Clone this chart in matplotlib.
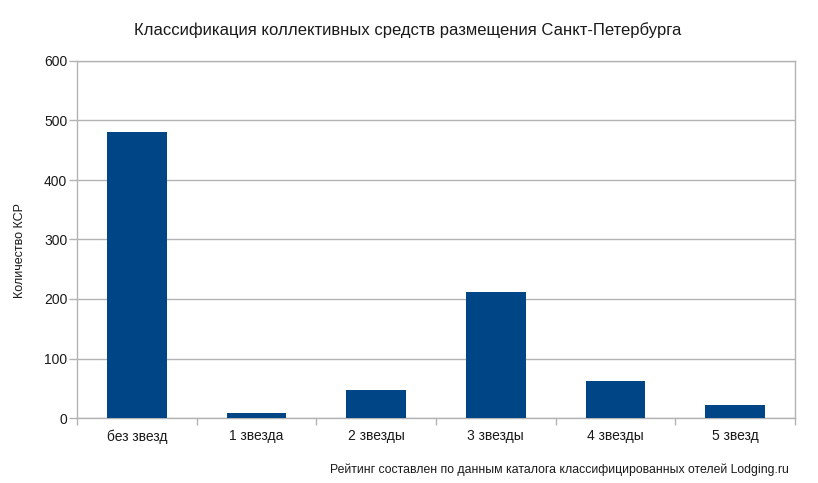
import matplotlib.pyplot as plt
import numpy as np

# данные диаграммы
categories = ["без звезд", "1 звезда", "2 звезды", "3 звезды", "4 звезды", "5 звезд"]
counts = [480, 8, 47, 212, 63, 22]
y_ticks = [0, 100, 200, 300, 400, 500, 600]

title = "Классификация коллективных средств размещения Санкт-Петербурга"
y_label = "Количество КСР"
footnote = "Рейтинг составлен по данным каталога классифицированных отелей Lodging.ru"

plt.rcParams['font.family'] = ['Liberation Sans', 'DejaVu Sans']

bar_color = "#004586"
grid_color = "#b3b3b3"
text_color = "#1a1a1a"

fig = plt.figure(figsize=(8.18, 4.83), dpi=100)
ax = fig.add_axes([77 / 818, 65 / 483, 718 / 818, 357 / 483])

x = np.arange(len(categories))
ax.bar(x, counts, width=0.5, color=bar_color, zorder=3)

ax.set_xlim(-0.5, len(categories) - 0.5)
ax.set_ylim(0, 600)
ax.set_yticks(y_ticks)
ax.set_yticklabels([str(v) for v in y_ticks])

# подписи категорий по центру, засечки на границах
ax.set_xticks(x)
ax.set_xticklabels(categories)
ax.set_xticks(np.arange(-0.5, len(categories)), minor=True)
ax.tick_params(axis="x", which="major", length=0, pad=8, labelsize=10, labelcolor=text_color)
ax.tick_params(axis="x", which="minor", length=5, color=grid_color, width=1)
ax.tick_params(axis="y", length=6, color=grid_color, width=1, pad=1, labelsize=10, labelcolor=text_color)

ax.grid(axis="y", color=grid_color, linewidth=1, zorder=0)
for side in ["left", "right", "top", "bottom"]:
    ax.spines[side].set_color(grid_color)
    ax.spines[side].set_linewidth(1)

fig.text(20 / 818, 1 - 250 / 483, y_label, rotation=90, ha="center", va="center",
         fontsize=9, color=text_color)
fig.text(408 / 818, 1 - 30 / 483, title, ha="center", va="center", fontsize=12, color=text_color)
fig.text(789 / 818, 1 - 470 / 483, footnote, ha="right", va="center", fontsize=8.8, color=text_color)

fig.savefig("out.png", dpi=100)
